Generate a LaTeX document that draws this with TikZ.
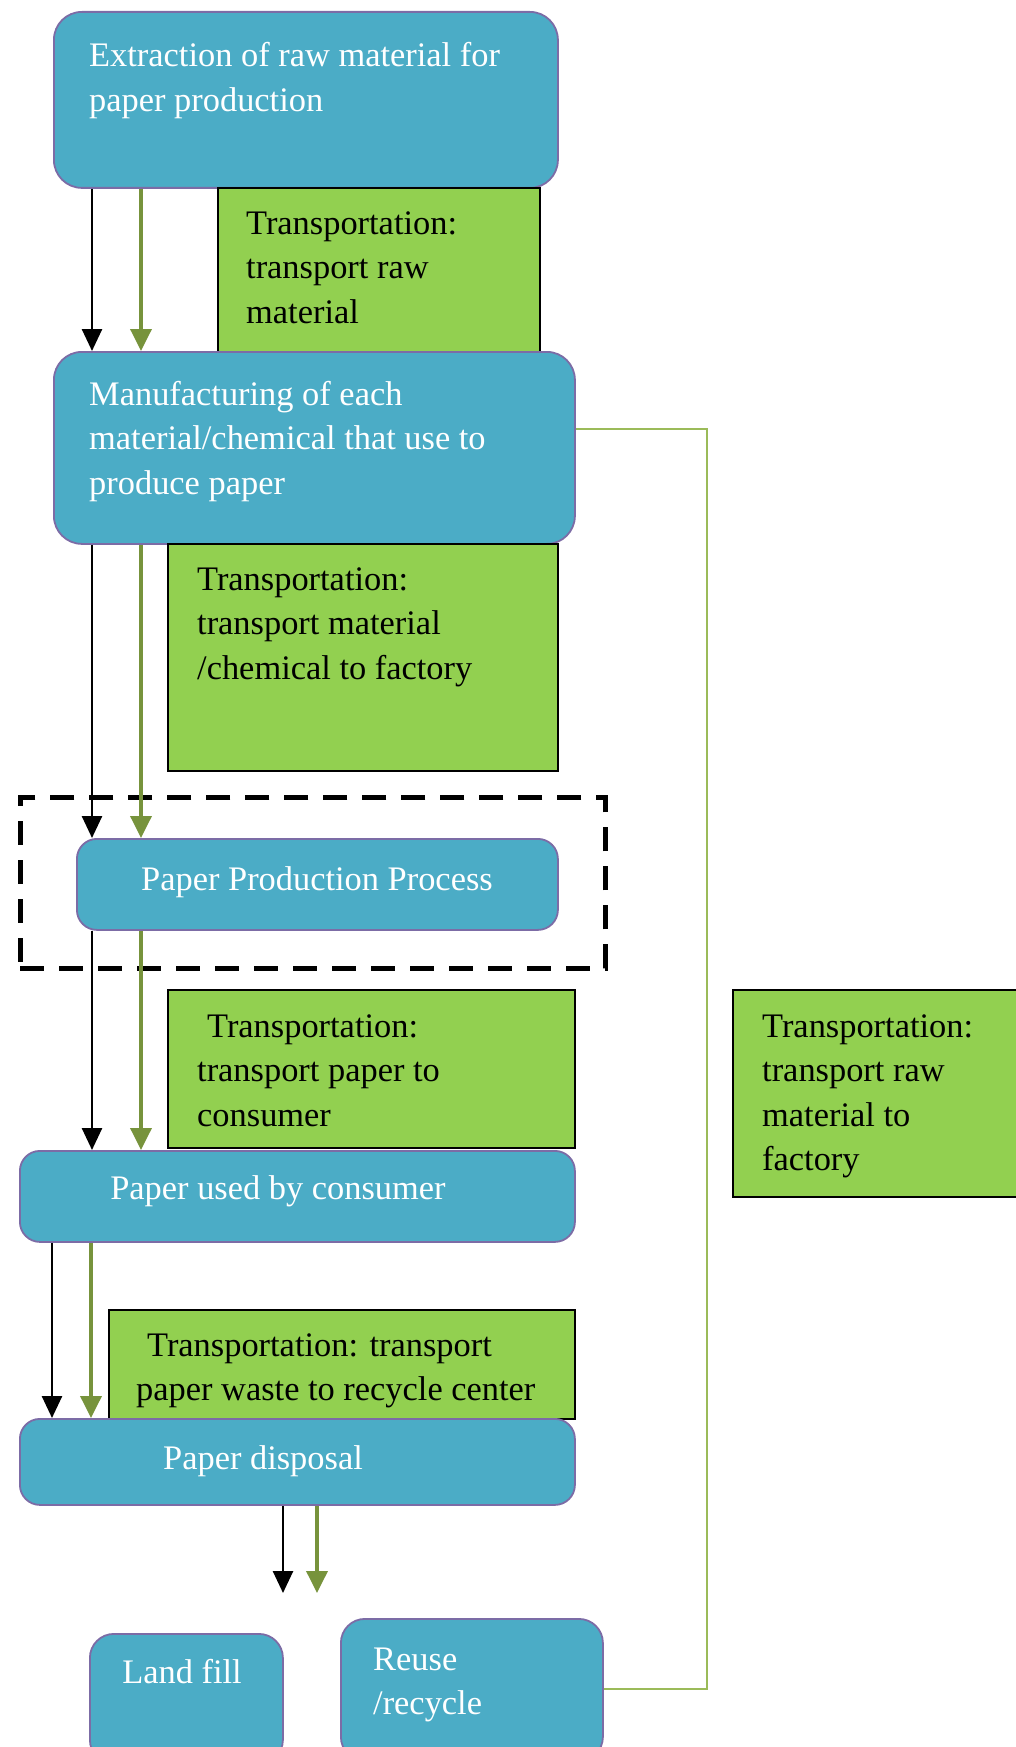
\documentclass[tikz,border=0pt]{standalone}
\usepackage{fontspec}
\setmainfont{Liberation Serif}
\usetikzlibrary{arrows.meta,calc}
\definecolor{boxblue}{HTML}{4BACC6}
\definecolor{boxedge}{HTML}{7C6CA6}
\definecolor{boxgreen}{HTML}{92D050}
\definecolor{arrgreen}{HTML}{77933C}
\definecolor{loopgreen}{HTML}{9BBB59}
\begin{document}
\begin{tikzpicture}[x=1pt,y=-1pt,
  bluebox/.style={draw=boxedge,line width=1.8pt,fill=boxblue,rounded corners=#1,inner sep=0pt,anchor=north west},
  bluebox/.default=26pt,
  greenbox/.style={draw=black,line width=2.4pt,fill=boxgreen,inner sep=0pt,anchor=north west},
  txt/.style={inner sep=0pt,align=left,font=\fontsize{34.4pt}{44.6pt}\selectfont},
  wtxt/.style={txt,text=white},
  ktxt/.style={txt,text=black},
  blackarr/.style={draw=black,line width=2.6pt,-{Triangle[width=20pt,length=22pt]}},
  greenarr/.style={draw=arrgreen,line width=3.6pt,-{Triangle[width=21pt,length=22pt]}},
  loopline/.style={draw=loopgreen,line width=2.4pt},
  groupbox/.style={draw=black,line width=4.5pt,dash pattern=on 24pt off 15pt}
]
\useasboundingbox (0,0) rectangle (1016,1747);
\clip (0,0) rectangle (1016,1747);

% boxes
\node[bluebox=28pt,minimum width=504pt,minimum height=176pt] (A) at (53,11) {};
\node[greenbox,minimum width=322pt,minimum height=164pt] (G1) at (217,187) {};
\node[bluebox=28pt,minimum width=521pt,minimum height=192pt] (B) at (53,351) {};
\node[greenbox,minimum width=390pt,minimum height=227pt] (G2) at (167,543) {};
\node[groupbox,inner sep=0pt,anchor=north west,minimum width=585pt,minimum height=171pt] (P) at (18,795) {};
\node[bluebox=20pt,minimum width=481pt,minimum height=91pt] (C) at (76,838) {};
\node[greenbox,minimum width=407pt,minimum height=158pt] (G3) at (167,989) {};
\node[bluebox=20pt,minimum width=555pt,minimum height=91pt] (D) at (19,1150) {};
\node[greenbox,minimum width=466pt,minimum height=109pt] (G4) at (108,1309) {};
\node[bluebox=20pt,minimum width=555pt,minimum height=86pt] (E) at (19,1418) {};
\node[bluebox=24pt,minimum width=193pt,minimum height=130pt] (F) at (89,1633) {};
\node[bluebox=24pt,minimum width=262pt,minimum height=142pt] (R) at (340,1618) {};
\node[greenbox,minimum width=300pt,minimum height=207pt] (G5) at (732,989) {};

% texts (base anchor = baseline of last line)
\node[wtxt,anchor=base west] (tA) at (89,111.6) {Extraction of raw material for\\paper production};
\node[ktxt,anchor=base west] (tG1) at (246,323.2) {Transportation:\\transport raw\\material};
\node[wtxt,anchor=base west] (tB) at (89,494.2) {Manufacturing of each\\material/chemical that use to\\produce paper};
\node[ktxt,anchor=base west] (tG2) at (197,679.2) {Transportation:\\transport material\\/chemical to factory};
\node[wtxt,anchor=base] (tC) at (317,890) {Paper Production Process};
\node[ktxt,anchor=base west] (tG3) at (197,1126.2) {\hspace{10pt}Transportation:\\transport paper to\\consumer};
\node[wtxt,anchor=base] (tD) at (278,1199) {Paper used by consumer};
\node[ktxt,anchor=base west] (tG4) at (136,1400.6) {\hspace{11pt}Transportation: transport\\paper waste to recycle center};
\node[wtxt,anchor=base] (tE) at (263,1469) {Paper disposal};
\node[wtxt,anchor=base] (tF) at (182,1683) {Land fill};
\node[wtxt,anchor=base west] (tR) at (373,1714.6) {Reuse\\/recycle};
\node[ktxt,anchor=base west] (tG5) at (762,1170.8) {Transportation:\\transport raw\\material to\\factory};

% arrow columns
\coordinate (kx) at (92,0);
\coordinate (gx) at (141,0);
\coordinate (kx2) at (52,0);
\coordinate (gx2) at (91,0);
\coordinate (e1) at (283,1593);
\coordinate (e2) at (317,1593);

\draw[blackarr] (A.south -| kx) -- (B.north -| kx);
\draw[greenarr] (A.south -| gx) -- (B.north -| gx);
\draw[blackarr] (B.south -| kx) -- (C.north -| kx);
\draw[greenarr] (B.south -| gx) -- (C.north -| gx);
\draw[blackarr] (C.south -| kx) -- (D.north -| kx);
\draw[greenarr] (C.south -| gx) -- (D.north -| gx);
\draw[blackarr] (D.south -| kx2) -- (E.north -| kx2);
\draw[greenarr] (D.south -| gx2) -- (E.north -| gx2);
\draw[blackarr] (E.south -| e1) -- (e1);
\draw[greenarr] (E.south -| e2) -- (e2);

% loop line
\coordinate (lpA) at (707,429);
\coordinate (lpB) at (707,1689);
\draw[loopline] (lpA -| B.east) -- (lpA) -- (lpB) -- (lpB -| R.east);
\end{tikzpicture}
\end{document}
